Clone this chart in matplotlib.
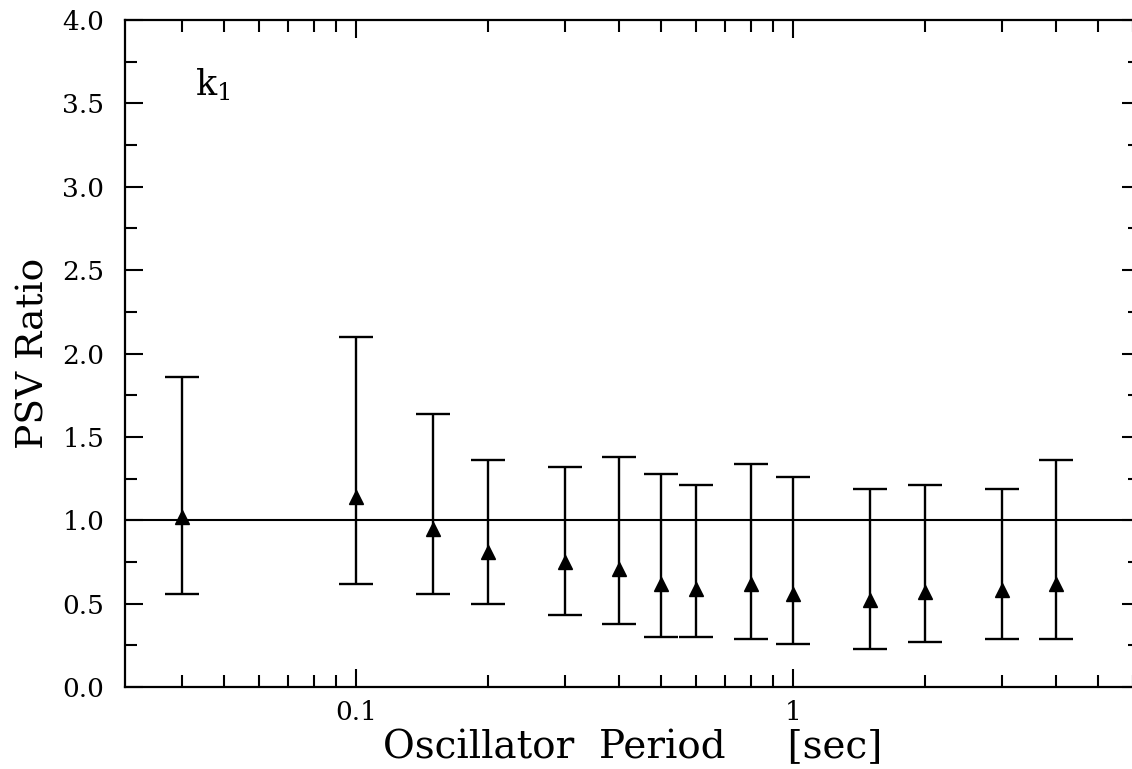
import matplotlib.pyplot as plt
from matplotlib.ticker import FixedLocator, MultipleLocator, NullFormatter

# oscillator periods [sec] and PSV ratio statistics
periods = [0.04, 0.1, 0.15, 0.2, 0.3, 0.4, 0.5, 0.6, 0.8, 1.0, 1.5, 2.0, 3.0, 4.0]
ratio_mid = [1.02, 1.14, 0.95, 0.81, 0.75, 0.71, 0.62, 0.59, 0.62, 0.56, 0.52, 0.57, 0.58, 0.62]
ratio_upper = [1.86, 2.10, 1.64, 1.36, 1.32, 1.38, 1.28, 1.21, 1.34, 1.26, 1.19, 1.21, 1.19, 1.36]
ratio_lower = [0.56, 0.62, 0.56, 0.50, 0.43, 0.38, 0.30, 0.30, 0.29, 0.26, 0.23, 0.27, 0.29, 0.29]

plt.rcParams["font.family"] = ["DejaVu Serif"]
plt.rcParams["mathtext.fontset"] = "dejavuserif"

fig = plt.figure(figsize=(11.32, 7.69), dpi=100)
# the right frame edge sits just outside the picture, as in the scan
ax = fig.add_axes([0.1104, 0.1066, 0.8966, 0.8674])

err_low = [m - lo for m, lo in zip(ratio_mid, ratio_lower)]
err_high = [hi - m for m, hi in zip(ratio_mid, ratio_upper)]
ax.errorbar(periods, ratio_mid, yerr=[err_low, err_high], fmt="^", color="black",
            markersize=10, elinewidth=1.7, capsize=12.5, capthick=1.7, zorder=3)
ax.axhline(1.0, color="black", linewidth=1.5, zorder=2)

ax.set_xscale("log")
ax.set_xlim(0.0296, 6.22)
ax.set_ylim(0.0, 4.0)

ax.xaxis.set_major_locator(FixedLocator([0.1, 1.0]))
ax.xaxis.set_minor_locator(FixedLocator([0.04, 0.05, 0.06, 0.07, 0.08, 0.09,
                                         0.2, 0.3, 0.4, 0.5, 0.6, 0.7, 0.8, 0.9,
                                         2, 3, 4, 5, 6]))
ax.xaxis.set_minor_formatter(NullFormatter())
ax.set_xticklabels(["0.1", "1"])
ax.yaxis.set_major_locator(MultipleLocator(0.5))
ax.yaxis.set_minor_locator(MultipleLocator(0.25))
ax.yaxis.set_major_formatter(plt.FuncFormatter(lambda v, p: f"{v:.1f}"))

ax.tick_params(which="both", direction="in", top=True, right=True, width=1.5,
               labelsize=19)
ax.tick_params(axis="x", pad=9)
ax.tick_params(axis="y", pad=15)
ax.tick_params(which="major", length=13)
ax.tick_params(which="minor", length=8.5)
for spine in ax.spines.values():
    spine.set_linewidth(1.6)

ax.set_xlabel("Oscillator  Period     [sec]", fontsize=28, labelpad=3)
ax.set_ylabel("PSV Ratio", fontsize=27, labelpad=8)
ax.text(0.0428, 3.55, r"k$_\mathregular{1}$", fontsize=25)

fig.savefig("out.png", dpi=100)
